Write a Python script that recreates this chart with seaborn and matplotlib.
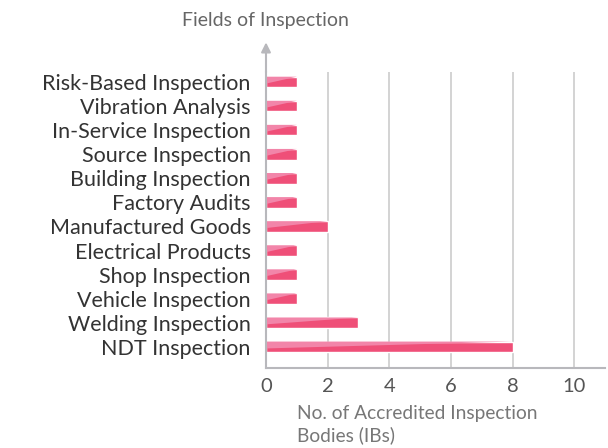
import pandas as pd
import matplotlib
matplotlib.use('Agg')
import matplotlib.pyplot as plt
from matplotlib.patches import Polygon
import seaborn as sns

fields = ['Risk-Based Inspection', 'Vibration Analysis', 'In-Service Inspection',
          'Source Inspection', 'Building Inspection', 'Factory Audits',
          'Manufactured Goods', 'Electrical Products', 'Shop Inspection',
          'Vehicle Inspection', 'Welding Inspection', 'NDT Inspection']
counts = [1, 1, 1, 1, 1, 1, 2, 1, 1, 1, 3, 8]
xticks = [0, 2, 4, 6, 8, 10]

df = pd.DataFrame({'field': fields, 'count': counts})

sns.set_style('white')
plt.rcParams['font.family'] = ['Lato', 'DejaVu Sans']

fig = plt.figure(figsize=(6.08, 4.48), dpi=100)
ax = fig.add_axes([0.4375, 0.179, 0.5575, 0.66])

sns.barplot(data=df, y='field', x='count', orient='h', color='#ef4f78',
            saturation=1, width=0.44, ax=ax)

# lighter shading on the upper-left of each bar
for p in ax.patches:
    x0, y0 = p.get_x(), p.get_y()
    w, h = p.get_width(), p.get_height()
    ax.add_patch(Polygon([(x0, y0), (x0 + w, y0), (x0, y0 + h * 0.65)],
                         closed=True, facecolor='#f285a9', edgecolor='none',
                         zorder=p.get_zorder() + 0.1))

ax.set_xlim(0, 11)
ax.set_ylim(len(fields) - 1 + 0.87, -0.41)
ax.set_xticks(xticks)
ax.set_xticklabels([str(t) for t in xticks], fontsize=14.5, color='#555555')
ax.tick_params(axis='y', labelsize=15.5, labelcolor='#333333', length=0, pad=11)
ax.tick_params(axis='x', length=0, pad=7)
ax.set_xlabel('')
ax.set_ylabel('')
ax.grid(axis='x', color='#d0d0d0', linewidth=1.3)
ax.set_axisbelow(True)
for s in ['top', 'right']:
    ax.spines[s].set_visible(False)
for s in ['left', 'bottom']:
    ax.spines[s].set_color('#b8b8bc')
    ax.spines[s].set_linewidth(1.5)

ax.annotate('', xy=(0, 1.11), xytext=(0, 0.99), xycoords='axes fraction',
            arrowprops=dict(arrowstyle='-|>', color='#b8b8bc', lw=1.5,
                            mutation_scale=14))

fig.text(0.436, 0.955, 'Fields of Inspection', ha='center', va='center',
         fontsize=14, color='#666666')
fig.text(0.488, 0.052, 'No. of Accredited Inspection\nBodies (IBs)', ha='left',
         va='center', fontsize=13.8, color='#777777', linespacing=1.3)

fig.savefig('out.png', dpi=100)
